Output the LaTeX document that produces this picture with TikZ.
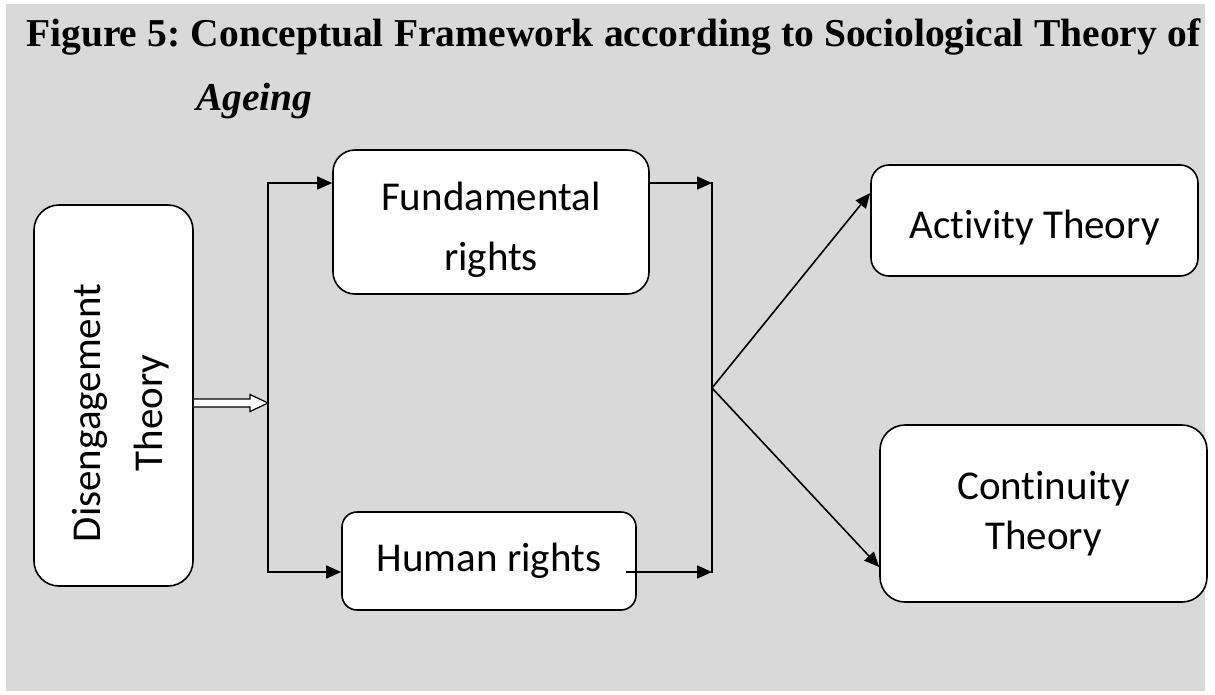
\documentclass[tikz,border=0pt]{standalone}
\usepackage{fontspec}
\usetikzlibrary{arrows.meta,calc}

\newfontfamily\boxfont{Carlito}[Ligatures=NoCommon]
\newfontfamily\capfont{Liberation Serif}
\definecolor{paper}{HTML}{D9D9D9}
\frenchspacing

\tikzset{
  theory/.style={draw, line width=1.6pt, fill=white, rounded corners=22pt,
    inner sep=0pt, align=center, font=\boxfont\fontsize{41}{50}\selectfont},
  flow/.style={line width=1.6pt, -{Triangle[length=15pt,width=13pt]}},
  bus/.style={line width=1.6pt, line cap=rect},
}

\begin{document}
\begin{tikzpicture}[x=1pt,y=-1pt]
  % Sizes
  \pgfmathsetmacro{\shaft}{4}
  \pgfmathsetmacro{\head}{8.5}
  \pgfmathsetmacro{\headlen}{18}

  % background
  \useasboundingbox (0,0) rectangle (1215,694);
  \fill[paper] (6,4) rectangle (1205,691);

  % caption
  \node[anchor=base west, inner sep=0pt,
        font=\capfont\bfseries\fontsize{39.5}{44}\selectfont] (cap) at (26,46)
    {\makebox[1174pt][s]{Figure 5: Conceptual Framework according to Sociological Theory of}};
  \node[anchor=base west, inner sep=0pt,
        font=\capfont\bfseries\itshape\fontsize{39.5}{44}\selectfont] (capb) at (196,110) {Ageing};

  % boxes
  \node[theory, minimum width=159pt, minimum height=381pt, rounded corners=25pt] (dis) at (113.5,395.5) {};
  \node[theory, minimum width=316pt, minimum height=144pt,
        font=\boxfont\fontsize{41}{60}\selectfont] (fund) at (491,222) {\rule{0pt}{44pt}Fundamental\\rights};
  \node[theory, minimum width=294pt, minimum height=98pt, rounded corners=15pt] (human) at (489,561) {Human rights};
  \node[theory, minimum width=327pt, minimum height=111pt, rounded corners=18pt] (act) at (1034.5,220.5) {\rule{0pt}{42pt}Activity Theory};
  \node[theory, minimum width=327pt, minimum height=177pt, rounded corners=25pt] (cont) at (1043.5,513.5) {Continuity\\Theory};

  % junctions
  \coordinate (spl) at (268,403);
  \coordinate (join) at (712,388);
  \coordinate (rowtop) at (0,183);
  \coordinate (rowbot) at (0,572);

  % draw diagram
  \filldraw[fill=white, line width=1.2pt]
    ($(dis.east |- spl)+(0,-\shaft)$) -- ($(spl)+(-\headlen,-\shaft)$)
    -- ($(spl)+(-\headlen,-\head)$) -- (spl)
    -- ($(spl)+(-\headlen,\head)$) -- ($(spl)+(-\headlen,\shaft)$)
    -- ($(dis.east |- spl)+(0,\shaft)$);

  \draw[bus] (spl |- rowtop) -- (spl |- rowbot);
  \draw[flow] (spl |- rowtop) -- (fund.west |- rowtop);
  \draw[flow] (spl |- rowbot) -- (human.west |- rowbot);

  \draw[flow] (fund.east |- rowtop) -- (join |- rowtop);
  \draw[flow] ($(human.east |- rowbot)+(-11,0)$) -- (join |- rowbot);
  \draw[bus] (join |- rowtop) -- (join |- rowbot);

  \draw[flow] (join) -- ($(act.west)+(0,-27.5)$);
  \draw[flow] (join) -- ($(cont.west)+(0,53.5)$);

  % labels
  \node[rotate=90, align=center, font=\boxfont\fontsize{41}{62}\selectfont] (distext) at (121,413)
    {Disengagement\\Theory};
\end{tikzpicture}
\end{document}
